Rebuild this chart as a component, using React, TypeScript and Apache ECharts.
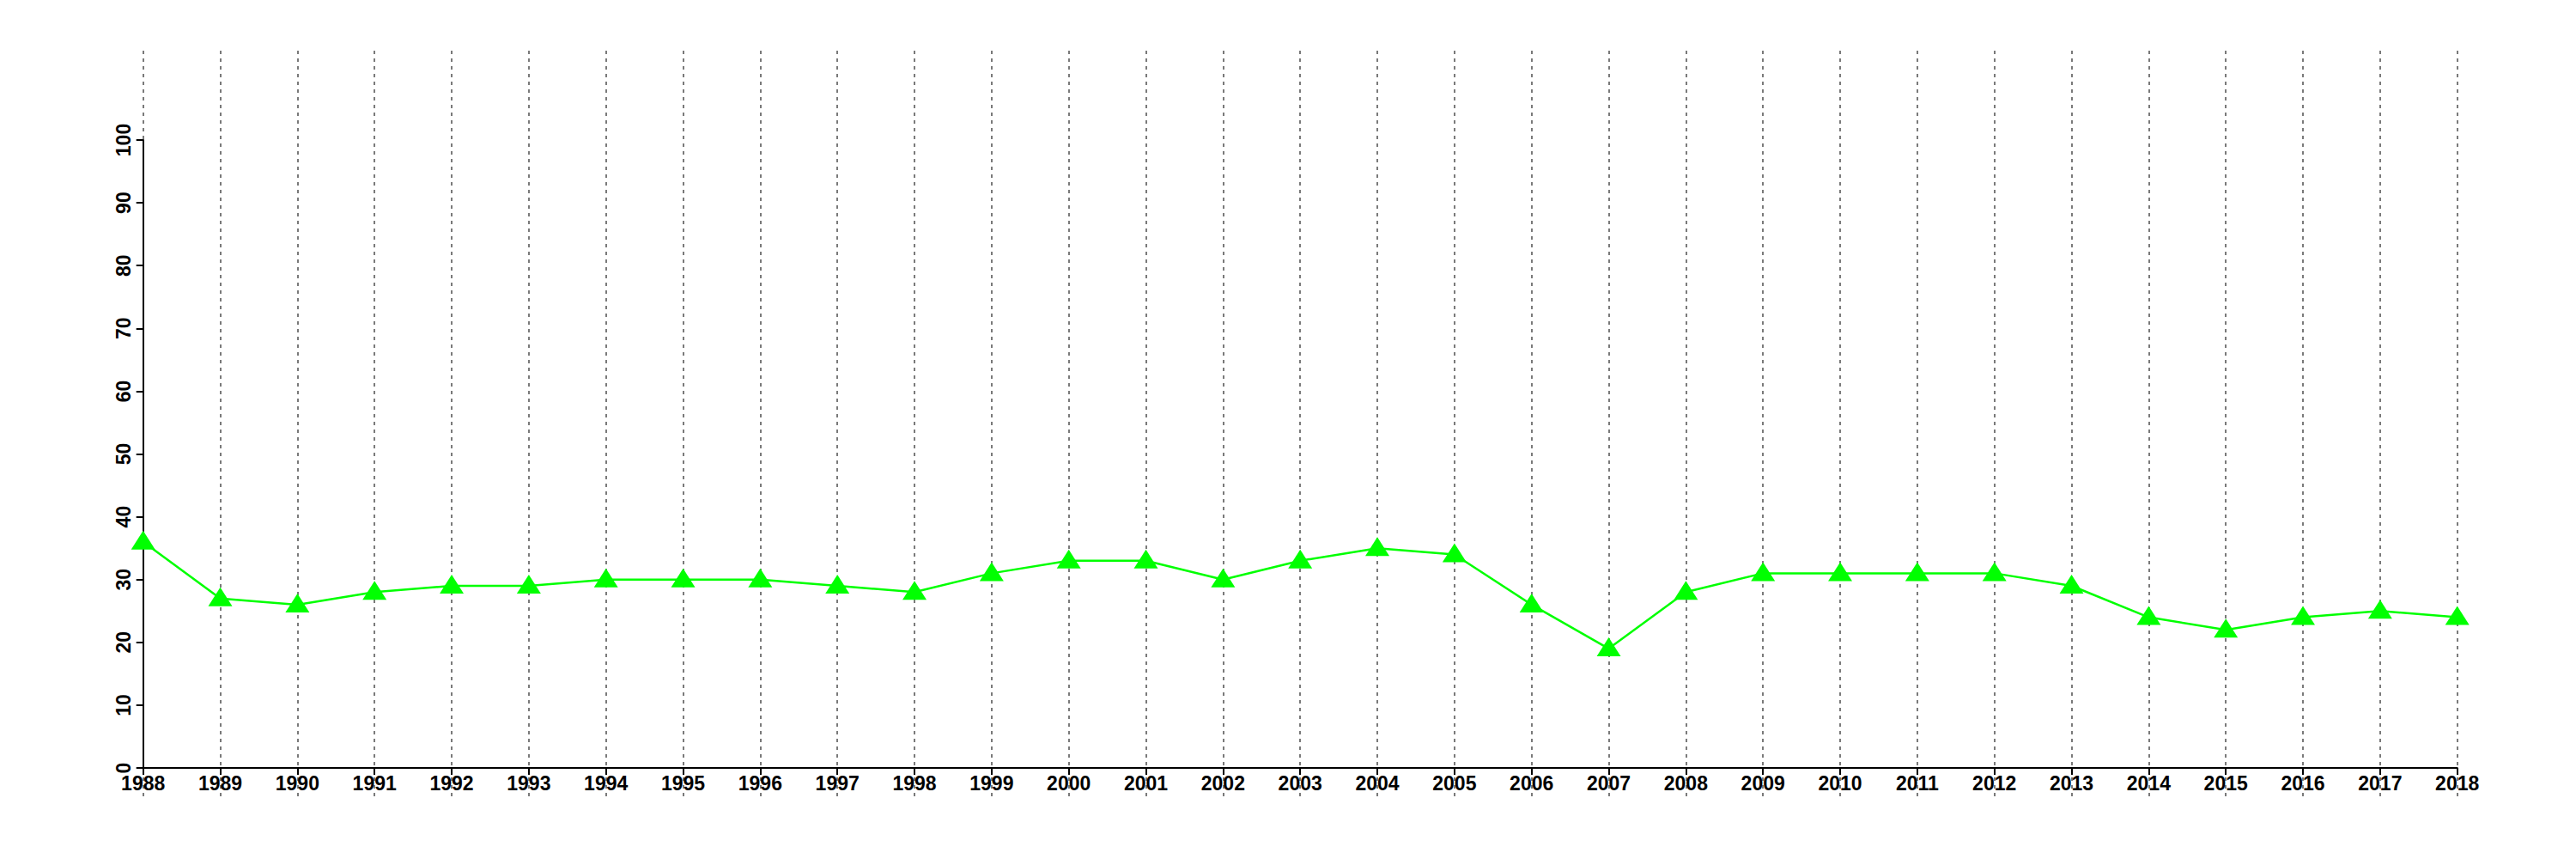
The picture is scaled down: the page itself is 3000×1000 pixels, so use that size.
import React, { useEffect, useRef } from "react";
import * as echarts from "echarts";

const years: string[] = [
  "1988", "1989", "1990", "1991", "1992", "1993", "1994", "1995", "1996", "1997",
  "1998", "1999", "2000", "2001", "2002", "2003", "2004", "2005", "2006", "2007",
  "2008", "2009", "2010", "2011", "2012", "2013", "2014", "2015", "2016", "2017", "2018",
];

const values: number[] = [
  36, 27, 26, 28, 29, 29, 30, 30, 30, 29,
  28, 31, 33, 33, 30, 33, 35, 34, 26, 19,
  28, 31, 31, 31, 31, 29, 24, 22, 24, 25, 24,
];

const yMin = 0;
const yMax = 100;
const yStep = 10;

const FONT = "'Liberation Sans', Arial, Helvetica, sans-serif";

export default function App() {
  const ref = useRef<HTMLDivElement | null>(null);

  useEffect(() => {
    if (!ref.current) return;
    const chart = echarts.init(ref.current, undefined, { renderer: "svg" });
    const L = 166.7;
    const R = 3000 - 2861.7;
    chart.setOption({
      animation: false,
      backgroundColor: "#ffffff",
      grid: [
        { left: L, right: R, top: 163, bottom: 106, containLabel: false },
        { left: L, right: R, top: 59, bottom: 73, containLabel: false },
      ],
      xAxis: [
        {
          type: "category",
          gridIndex: 0,
          data: years,
          boundaryGap: false,
          axisLine: { show: true, lineStyle: { color: "#000", width: 2 } },
          axisTick: { show: true, length: 8, interval: 0, lineStyle: { color: "#000", width: 2 } },
          axisLabel: {
            interval: 0,
            margin: 6,
            color: "#000",
            fontSize: 23,
            fontWeight: "bold",
            fontFamily: FONT,
          },
          splitLine: { show: false },
          z: 5,
        },
        {
          type: "category",
          gridIndex: 1,
          data: years,
          boundaryGap: false,
          axisLine: { show: false },
          axisTick: { show: false },
          axisLabel: { show: false },
          splitLine: {
            show: true,
            interval: 0,
            lineStyle: { color: "#7a7a7a", width: 2, type: [4, 5] },
          },
        },
      ],
      yAxis: [
        {
          type: "value",
          gridIndex: 0,
          min: yMin,
          max: yMax,
          interval: yStep,
          axisLine: { show: true, lineStyle: { color: "#000", width: 2 } },
          axisTick: { show: true, length: 8, lineStyle: { color: "#000", width: 2 } },
          axisLabel: {
            rotate: 90,
            margin: 11,
            color: "#000",
            fontSize: 23,
            fontWeight: "bold",
            fontFamily: FONT,
          },
          splitLine: { show: false },
          z: 5,
        },
        {
          type: "value",
          gridIndex: 1,
          min: 0,
          max: 1,
          show: false,
          splitLine: { show: false },
        },
      ],
      series: [
        {
          type: "line",
          xAxisIndex: 0,
          yAxisIndex: 0,
          data: values,
          symbol: "triangle",
          symbolSize: [28, 22],
          symbolOffset: [0, -2],
          showAllSymbol: true,
          lineStyle: { color: "#00ff00", width: 2.5 },
          itemStyle: { color: "#00ff00" },
          z: 10,
        },
      ],
    });
    return () => chart.dispose();
  }, []);

  return (
    <div
      ref={ref}
      style={{ position: "fixed", left: 0, top: 0, width: 3000, height: 1000, background: "#fff" }}
    />
  );
}
